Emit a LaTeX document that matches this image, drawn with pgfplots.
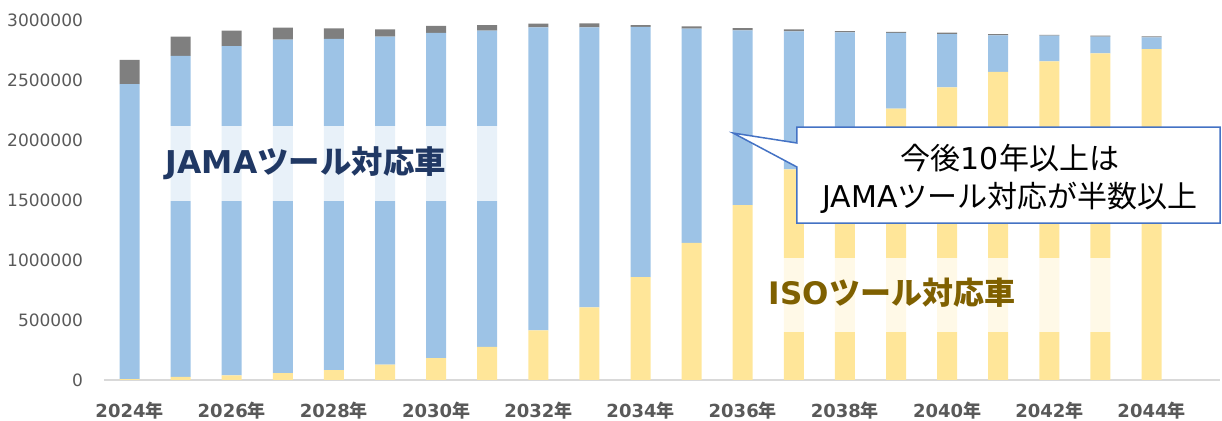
\documentclass[border=0pt]{standalone}
\usepackage{fontspec}
\setmainfont{DejaVu Sans}
\newfontfamily\jp{Noto Sans CJK JP}
\usepackage{pgfplots}
\pgfplotsset{compat=1.18}
\definecolor{cYellow}{RGB}{255,230,153}
\definecolor{cBlue}{RGB}{157,195,230}
\definecolor{cGray}{RGB}{127,127,127}
\definecolor{cTick}{RGB}{89,89,89}
\definecolor{cAxis}{RGB}{217,217,217}
\definecolor{cNavy}{RGB}{32,56,100}
\definecolor{cGold}{RGB}{127,96,0}
\definecolor{cCall}{RGB}{68,114,196}
\newcommand\nen{{\jp 年}}
\begin{document}
\begin{tikzpicture}
\begin{axis}[
  scale only axis,
  width=558pt, height=180pt,
  ybar stacked,
  bar width=10pt,
  xmin=-0.5, xmax=21.34,
  ymin=0, ymax=3000000,
  axis x line*=bottom,
  axis y line*=left,
  x axis line style={draw=cAxis, line width=1pt},
  y axis line style={draw=none},
  xtick={0,2,...,20},
  xticklabels={2024\nen,2026\nen,2028\nen,2030\nen,2032\nen,2034\nen,2036\nen,2038\nen,2040\nen,2042\nen,2044\nen},
  xticklabel style={font=\fontsize{9}{10}\selectfont\bfseries, text=cTick, yshift=-7.5pt},
  major tick length=0pt,
  ytick={0,500000,1000000,1500000,2000000,2500000,3000000},
  scaled y ticks=false,
  yticklabel style={font=\fontsize{8.5}{10}\selectfont, text=cTick, xshift=-7pt,
    /pgf/number format/fixed, /pgf/number format/precision=0,
    /pgf/number format/1000 sep={}, /pgf/number format/assume math mode=true},
  clip=false,
]
% ISO
\addplot[fill=cYellow, draw=none] coordinates {
(0,8000) (1,25000) (2,39000) (3,58000) (4,83000) (5,128000) (6,183000) (7,275000)
(8,414000) (9,606000) (10,858000) (11,1142000) (12,1458000) (13,1756000) (14,2030000)
(15,2261000) (16,2439000) (17,2567000) (18,2656000) (19,2722000) (20,2758000)};
% JAMA
\addplot[fill=cBlue, draw=none] coordinates {
(0,2458000) (1,2675000) (2,2744000) (3,2778000) (4,2759000) (5,2733000) (6,2709000) (7,2636000)
(8,2525000) (9,2333000) (10,2084000) (11,1786000) (12,1456000) (13,1150000) (14,867000)
(15,631000) (16,444000) (17,305000) (18,213000) (19,139000) (20,98000)};
% other
\addplot[fill=cGray, draw=none] coordinates {
(0,201000) (1,161000) (2,128000) (3,100000) (4,88000) (5,61000) (6,58000) (7,47000)
(8,30000) (9,33000) (10,16000) (11,19000) (12,19000) (13,16000) (14,11000)
(15,8000) (16,11000) (17,11000) (18,6000) (19,8000) (20,8000)};
\coordinate (jA) at (axis cs:0.30,1490000);
\coordinate (jB) at (axis cs:7.45,2117000);
\coordinate (iA) at (axis cs:12.34,400000);
\coordinate (iB) at (axis cs:19.42,1017000);
\coordinate (jT) at (axis cs:3.45,1808000);
\coordinate (iT) at (axis cs:14.92,725000);
\coordinate (c1) at (axis cs:13.06,2108000);
\coordinate (c2) at (axis cs:21.34,2108000);
\coordinate (c3) at (axis cs:21.34,1308000);
\coordinate (c4) at (axis cs:13.06,1308000);
\coordinate (c5) at (axis cs:13.06,1775000);
\coordinate (c6) at (axis cs:11.81,2058000);
\coordinate (c7) at (axis cs:13.06,1975000);
\coordinate (cT) at (axis cs:17.23,1675000);
\end{axis}
% overlay boxes
\fill[white, opacity=0.77] (jA) rectangle (jB);
\fill[white, opacity=0.77] (iA) rectangle (iB);
\node[text=cNavy, font=\fontsize{15.7}{18}\selectfont\bfseries] at (jT) {JAMA{\jp ツール対応車}};
\node[text=cGold, font=\fontsize{15.5}{18}\selectfont\bfseries] at (iT) {ISO{\jp ツール対応車}};
% callout
\filldraw[fill=white, draw=cCall, line width=0.75pt, line join=miter]
  (c1) -- (c2) -- (c3) -- (c4) -- (c5) -- (c6) -- (c7) -- cycle;
\node[align=center, text=black, font=\fontsize{15}{19}\selectfont] at (cT)
  {{\jp 今後}10{\jp 年以上は}\\JAMA{\jp ツール対応が半数以上}};
\pgfresetboundingbox
\path ([xshift=-52pt,yshift=-20.5pt]current axis.south west) rectangle ([xshift=1pt,yshift=10pt]current axis.north east);
\end{tikzpicture}
\end{document}
